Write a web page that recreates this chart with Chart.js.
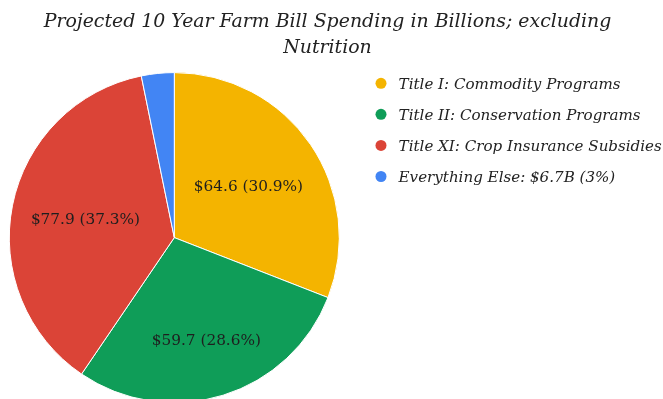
<!DOCTYPE html>
<html>
<head>
<meta charset="utf-8">
<script src="https://cdn.jsdelivr.net/npm/chart.js@4/dist/chart.umd.min.js"></script>
<style>
  html, body { margin: 0; padding: 0; background: #ffffff; }
  #wrap { width: 663px; height: 399px; position: relative; }
</style>
</head>
<body>
<div id="wrap"><canvas id="farmBill"></canvas></div>
<script>
// Ten-year projected outlays, billions of dollars (nutrition title excluded)
const categories = [
  'Title I: Commodity Programs',
  'Title II: Conservation Programs',
  'Title XI: Crop Insurance Subsidies',
  'Everything Else: $6.7B (3%)'
];
const spending = [64.6, 59.7, 77.9, 6.7];
const titleLines = ['Projected 10 Year Farm Bill Spending in Billions; excluding', 'Nutrition'];

const sliceColors = ['#F4B400', '#0F9D58', '#DB4437', '#4285F4'];
const serif = '"DejaVu Serif", "Liberation Serif", serif';
const textColor = '#222222';

// Two-line centred heading above the pie
const heading = {
  id: 'heading',
  afterDraw(chart, args, opts) {
    const ctx = chart.ctx;
    ctx.save();
    ctx.font = opts.font;
    ctx.fillStyle = opts.color;
    ctx.textAlign = 'center';
    ctx.textBaseline = 'alphabetic';
    opts.lines.forEach((line, i) => {
      ctx.fillText(line, opts.x, opts.firstBaseline + i * opts.lineGap);
    });
    ctx.restore();
  }
};

// Legend column to the right of the pie: coloured dot + italic label
const sideLegend = {
  id: 'sideLegend',
  afterDraw(chart, args, opts) {
    const ctx = chart.ctx;
    const ds = chart.data.datasets[0];
    ctx.save();
    ctx.font = opts.font;
    ctx.textAlign = 'left';
    ctx.textBaseline = 'alphabetic';
    chart.data.labels.forEach((label, i) => {
      const cy = opts.top + i * opts.step;
      ctx.beginPath();
      ctx.arc(opts.dotX, cy, opts.dotRadius, 0, Math.PI * 2);
      ctx.fillStyle = ds.backgroundColor[i];
      ctx.fill();
      ctx.fillStyle = opts.color;
      ctx.fillText(label, opts.textX, cy + opts.baselineShift);
    });
    ctx.restore();
  }
};

// Writes "$value (share%)" inside each large slice, along its mid-angle
const sliceLabels = {
  id: 'sliceLabels',
  afterDatasetsDraw(chart, args, opts) {
    const ctx = chart.ctx;
    const meta = chart.getDatasetMeta(0);
    const values = chart.data.datasets[0].data;
    const total = values.reduce((a, b) => a + b, 0);
    ctx.save();
    ctx.font = opts.font;
    ctx.fillStyle = opts.color;
    ctx.textAlign = 'center';
    ctx.textBaseline = 'middle';
    meta.data.forEach((arc, i) => {
      const frac = opts.radiusFraction[i];
      if (!frac) return;
      const p = arc.getProps(['x', 'y', 'startAngle', 'endAngle', 'outerRadius'], true);
      const mid = (p.startAngle + p.endAngle) / 2;
      const r = p.outerRadius * frac;
      const text = '$' + values[i].toFixed(1) + ' (' + (values[i] / total * 100).toFixed(1) + '%)';
      ctx.fillText(text, p.x + Math.cos(mid) * r, p.y + Math.sin(mid) * r);
    });
    ctx.restore();
  }
};

new Chart(document.getElementById('farmBill'), {
  type: 'pie',
  data: {
    labels: categories,
    datasets: [{
      data: spending,
      backgroundColor: sliceColors,
      borderColor: '#ffffff',
      borderWidth: 1,
      radius: 165,
      clip: false
    }]
  },
  plugins: [sliceLabels, heading, sideLegend],
  options: {
    responsive: true,
    maintainAspectRatio: false,
    animation: false,
    layout: { padding: { top: 76.2, left: 0, right: 314.4, bottom: 0 } },
    plugins: {
      tooltip: { enabled: false },
      title: { display: false },
      legend: { display: false },
      heading: {
        lines: titleLines,
        font: 'italic 18.9px ' + serif,
        color: textColor,
        x: 327.5,
        firstBaseline: 27.3,
        lineGap: 26
      },
      sideLegend: {
        font: 'italic 15.1px ' + serif,
        color: textColor,
        top: 83.3,
        step: 31.07,
        dotX: 381,
        dotRadius: 5.5,
        textX: 398.6,
        baselineShift: 5.5
      },
      sliceLabels: {
        font: '15.3px ' + serif,
        color: '#1e1e1e',
        radiusFraction: [0.544, 0.656, 0.549, 0]
      }
    }
  }
});
</script>
</body>
</html>
